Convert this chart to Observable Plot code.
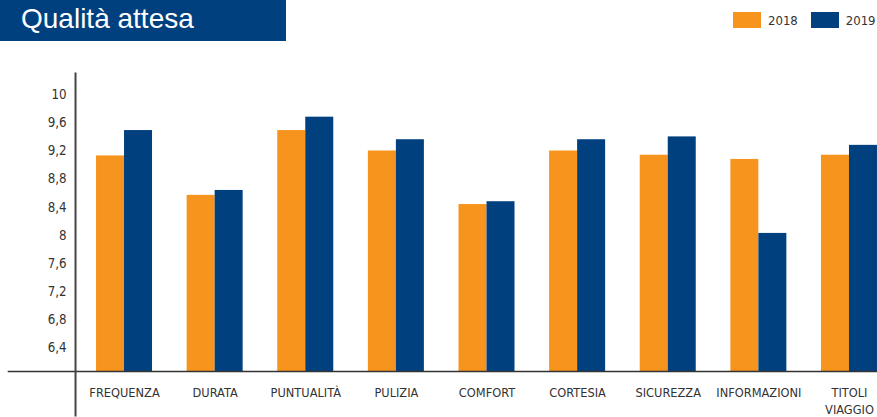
<!DOCTYPE html>
<html>
<head>
<meta charset="utf-8">
<script src="https://cdn.jsdelivr.net/npm/d3@7"></script>
<script src="https://cdn.jsdelivr.net/npm/@observablehq/plot@0.6"></script>
<style>
html, body { margin: 0; padding: 0; background: #fff; overflow: hidden; width: 877px; height: 417px; }
#header { position: relative; height: 50px; width: 877px; }
#banner { position: absolute; left: 0; top: 0; width: 286px; height: 41px; background: #00407f; }
#title { position: absolute; left: 21px; top: 1px; color: #fff; font-family: "Liberation Sans", Arial, sans-serif; font-size: 28px; line-height: 36px; white-space: nowrap; }
#legend { position: absolute; left: 733px; top: 11px; height: 18px; display: flex; align-items: center; font-family: "DejaVu Sans Condensed", sans-serif; font-size: 13px; color: #333; white-space: nowrap; }
.sw { width: 28px; height: 16px; display: inline-block; margin-right: 7px; }
.item { display: flex; align-items: center; margin-right: 13px; }
#chart svg { display: block; overflow: visible; max-width: none !important; }
</style>
</head>
<body>
<div id="header">
  <div id="banner"><div id="title">Qualità attesa</div></div>
  <div id="legend"></div>
</div>
<div id="chart"></div>
<script>
// Data
const categories = ["FREQUENZA", "DURATA", "PUNTUALITÀ", "PULIZIA", "COMFORT", "CORTESIA", "SICUREZZA", "INFORMAZIONI", "TITOLI VIAGGIO"];
const years = ["2018", "2019"];
const values2018 = [9.13, 8.57, 9.49, 9.20, 8.44, 9.20, 9.14, 9.08, 9.14];
const values2019 = [9.49, 8.64, 9.68, 9.36, 8.48, 9.36, 9.40, 8.03, 9.28];
const yTicks = [6.4, 6.8, 7.2, 7.6, 8, 8.4, 8.8, 9.2, 9.6, 10];
const yDomain = [6.07, 10.3];
const colors = ["#f7941d", "#00407f"];

const rows = categories.flatMap((c, i) => [
  {cat: c, year: years[0], value: values2018[i]},
  {cat: c, year: years[1], value: values2019[i]}
]);

// Legend
const legend = document.getElementById("legend");
years.forEach((y, i) => {
  const it = document.createElement("div");
  it.className = "item";
  it.innerHTML = `<span class="sw" style="background:${colors[i]}"></span><span>${y}</span>`;
  legend.appendChild(it);
});

const fmt = d => String(d).replace(".", ",");

const chart = Plot.plot({
  width: 898,
  height: 367,
  marginLeft: 75,
  marginRight: 0,
  marginTop: 23,
  marginBottom: 46,
  style: {fontFamily: '"DejaVu Sans Condensed", sans-serif', color: "#333", background: "transparent", maxWidth: "none"},
  fx: {domain: categories, paddingInner: 0.382, paddingOuter: 0.232, round: false, label: null, axis: null},
  x: {domain: years, padding: 0, round: false, axis: null},
  y: {domain: yDomain, axis: null},
  color: {domain: years, range: colors},
  marks: [
    Plot.barY(rows, {fx: "cat", x: "year", y1: yDomain[0], y2: "value", fill: "year"}),
    Plot.frame({anchor: "bottom", facet: "super", stroke: "#333", strokeWidth: 1.6, insetLeft: -88}),
    Plot.frame({anchor: "left", facet: "super", stroke: "#444", strokeWidth: 2, insetLeft: -21, insetBottom: -44}),
    Plot.axisY(yTicks, {tickSize: 0, tickPadding: 30, tickFormat: fmt, fontSize: 13.2, label: null}),
    Plot.axisFx({anchor: "bottom", tickSize: 0, tickPadding: 14, fontSize: 12.7, lineHeight: 1.32, label: null, tickFormat: d => d.replace(" ", "\n")})
  ]
});
document.getElementById("chart").appendChild(chart);
</script>
</body>
</html>
